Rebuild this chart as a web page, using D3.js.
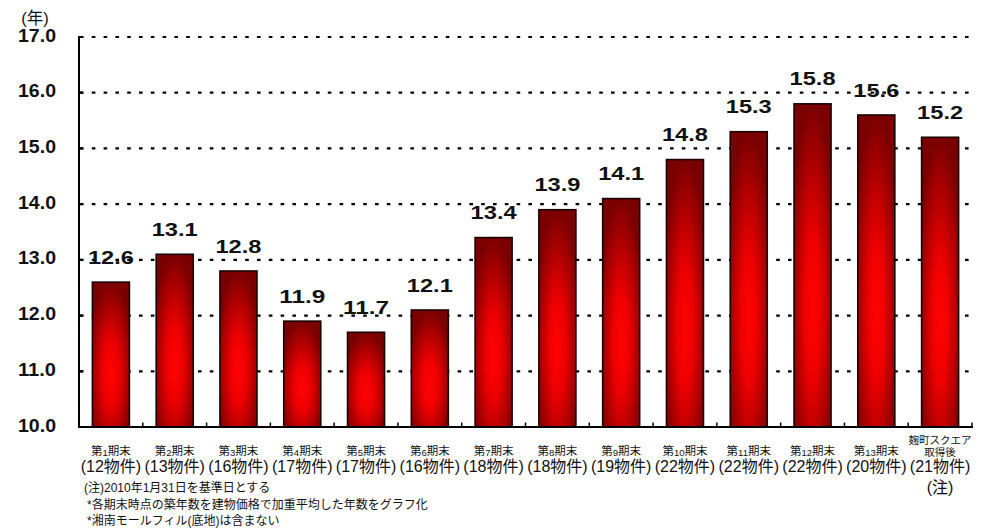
<!DOCTYPE html>
<html><head><meta charset="utf-8">
<script src="https://cdn.jsdelivr.net/npm/d3@7"></script>
<style>
html,body{margin:0;padding:0;background:#fff;}
svg{display:block;}
</style></head>
<body>
<svg id="chart" width="987" height="531"></svg>
<script>
const categories = ["第1期末","第2期末","第3期末","第4期末","第5期末","第6期末","第7期末","第8期末","第9期末","第10期末","第11期末","第12期末","第13期末","麹町スクエア|取得後"];
const counts = ["(12物件)","(13物件)","(16物件)","(17物件)","(17物件)","(16物件)","(18物件)","(18物件)","(19物件)","(22物件)","(22物件)","(22物件)","(20物件)","(21物件)"];
const values = [12.6,13.1,12.8,11.9,11.7,12.1,13.4,13.9,14.1,14.8,15.3,15.8,15.6,15.2];
const yTicks = [10,11,12,13,14,15,16,17];
const yUnit = "(年)";
const notes = ["(注)2010年1月31日を基準日とする","*各期末時点の築年数を建物価格で加重平均した年数をグラフ化","*湘南モールフィル(底地)は含まない"];
const lastNote = "(注)";

const svg = d3.select("#chart");
const JP = "'Liberation Sans','Noto Sans CJK JP',Arial,sans-serif";

const y = d3.scaleLinear().domain([10,17]).range([427,37]);
const x = d3.scaleBand().domain(categories).range([79,972]).padding(0);
const bw = x.bandwidth();
const barW = bw*0.58;

// gradient
const defs = svg.append("defs");
const g = defs.append("radialGradient").attr("id","barGrad")
  .attr("cx",0.5).attr("cy",0.62).attr("r",0.62).attr("fx",0.5).attr("fy",0.64);
g.append("stop").attr("offset","0").attr("stop-color","#ff0303");
g.append("stop").attr("offset","0.35").attr("stop-color","#ee0000");
g.append("stop").attr("offset","1").attr("stop-color","#7a0000");

// gridlines
svg.append("g").selectAll("line").data(yTicks.filter(d=>d>10)).join("line")
  .attr("x1",80).attr("x2",972).attr("y1",d=>y(d)).attr("y2",d=>y(d))
  .attr("stroke","#000").attr("stroke-width",2.2).attr("stroke-dasharray","3.6 8.2");

// bars
svg.append("g").selectAll("rect").data(values).join("rect")
  .attr("x",(d,i)=>x(categories[i])+(bw-barW)/2)
  .attr("y",d=>y(d))
  .attr("width",barW)
  .attr("height",d=>y(10)-y(d))
  .attr("fill","url(#barGrad)")
  .attr("stroke","#1a0000").attr("stroke-width",1.6);

// value labels
svg.append("g").selectAll("text").data(values).join("text")
  .attr("x",(d,i)=>x(categories[i])+bw/2)
  .attr("y",d=>y(d)-18.5)
  .attr("text-anchor","middle")
  .attr("font-family","'Liberation Sans',Arial,sans-serif")
  .attr("font-weight","bold").attr("font-size",17.5)
  .attr("textLength",46).attr("lengthAdjust","spacingAndGlyphs")
  .attr("fill","#111")
  .text(d=>d.toFixed(1));

// y axis
const yAxis = d3.axisLeft(y).tickValues(yTicks).tickFormat(d3.format(".1f")).tickSize(0).tickPadding(0);
const ya = svg.append("g").attr("transform","translate(79,0)").call(yAxis);
ya.select(".domain").remove();
ya.selectAll("text").attr("x",-23).attr("dy","0.32em")
  .attr("font-family","'Liberation Sans',Arial,sans-serif")
  .attr("font-weight","bold").attr("font-size",17.5).attr("fill","#111")
  .attr("textLength",38).attr("lengthAdjust","spacingAndGlyphs");
ya.selectAll(".tick text").attr("y",-1.5);
svg.append("line").attr("x1",79).attr("x2",79).attr("y1",36).attr("y2",428)
  .attr("stroke","#000").attr("stroke-width",2);
// small ticks on y
svg.append("g").selectAll("line").data(yTicks).join("line")
  .attr("x1",79).attr("x2",83).attr("y1",d=>y(d)).attr("y2",d=>y(d))
  .attr("stroke","#000").attr("stroke-width",2);

// y unit
svg.append("text").attr("x",35).attr("y",24).attr("text-anchor","middle")
  .attr("font-family",JP).attr("font-size",16.5).attr("fill","#111").text(yUnit);

// x axis
svg.append("line").attr("x1",78).attr("x2",973).attr("y1",y(10)).attr("y2",y(10))
  .attr("stroke","#000").attr("stroke-width",2);
const bounds = categories.slice(1).map(c=>x(c)).concat([x.range()[1]]);
svg.append("g").selectAll("line").data(bounds).join("line")
  .attr("x1",d=>d).attr("x2",d=>d).attr("y1",y(10)).attr("y2",y(10)-4.5)
  .attr("stroke","#000").attr("stroke-width",1.5);

// category labels
const cg = svg.append("g").attr("font-family",JP).attr("fill","#111");
categories.forEach((c,i)=>{
  const cx = x(c)+bw/2;
  if (c.includes("|")) {
    const parts = c.split("|");
    cg.append("text").attr("x",cx).attr("y",444).attr("text-anchor","middle")
      .attr("font-size",10.5).text(parts[0]);
    cg.append("text").attr("x",cx).attr("y",456).attr("text-anchor","middle")
      .attr("font-size",10.5).text(parts[1]);
  } else {
    const m = c.match(/^(\D+)(\d+)(\D+)$/);
    const t = cg.append("text").attr("x",cx).attr("y",454.5).attr("text-anchor","middle").attr("font-size",11.5);
    t.append("tspan").text(m[1]);
    t.append("tspan").attr("font-size",9.5).attr("dy",1).text(m[2]);
    t.append("tspan").attr("dy",-1).text(m[3]);
  }
  cg.append("text").attr("x",cx).attr("y",472).attr("text-anchor","middle")
    .attr("font-size",16).text(counts[i]);
});
// last note
cg.append("text").attr("x",x(categories[categories.length-1])+bw/2).attr("y",493)
  .attr("text-anchor","middle").attr("font-size",16).text(lastNote);

// notes
const ng = svg.append("g").attr("font-family",JP).attr("font-size",12).attr("fill","#111");
notes.forEach((n,i)=>{
  ng.append("text").attr("x",i===0?84:87).attr("y",492+i*16.5).text(n);
});
</script>
</body></html>
